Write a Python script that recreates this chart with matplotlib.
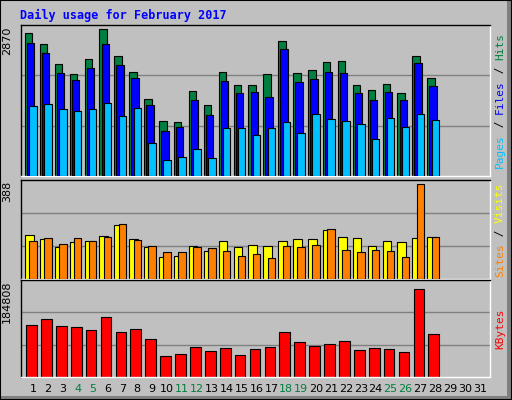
import numpy as np
import matplotlib
matplotlib.use("Agg")
import matplotlib.pyplot as plt
from matplotlib.patches import Rectangle

days = list(range(1, 32))
weekend = [4, 5, 11, 12, 18, 19, 25, 26]
hits = [2799, 2586, 2198, 2004, 2295, 2870, 2359, 2043, 1500, 1080, 1060, 1661, 1390, 2043,
        1778, 1778, 1991, 2650, 2010, 2068, 2224, 2243, 1778, 1681, 1797, 1622, 2359, 1913]
files = [2605, 2411, 2023, 1888, 2120, 2586, 2165, 1913, 1390, 886, 963, 1487, 1196, 1855,
         1622, 1642, 1545, 2495, 1836, 1894, 2030, 2010, 1622, 1487, 1642, 1487, 2204, 1758]
pages = [1364, 1403, 1312, 1273, 1312, 1422, 1170, 1332, 653, 304, 381, 537, 362, 944,
         944, 808, 944, 1060, 847, 1215, 1118, 1080, 1021, 730, 1138, 963, 1215, 1099]
visits = [181, 164, 130, 151, 155, 176, 223, 164, 130, 92, 96, 134, 113, 155,
          130, 138, 134, 155, 164, 164, 202, 172, 168, 134, 155, 151, 168, 172]
sites = [155, 168, 143, 168, 155, 172, 227, 159, 134, 109, 109, 130, 126, 113,
         96, 104, 87, 134, 130, 138, 206, 117, 109, 121, 113, 92, 388, 172]
kbytes = [109700, 121900, 107600, 105600, 99500, 125900, 93400, 101600, 79200, 44700,
          48700, 63000, 54800, 60900, 46700, 58900, 63000, 93400, 73100, 65000,
          69100, 75100, 56900, 60900, 58900, 52800, 184808, 89400]

BG = "#C0C0C0"
W, H = 512, 400
fig = plt.figure(figsize=(W / 100, H / 100), dpi=100, facecolor=BG)
mono = "DejaVu Sans Mono"

# bevel frame
fig.patches.append(Rectangle((507 / W, 0), 5 / W, 1, transform=fig.transFigure, fc="#808080", ec="none"))
fig.patches.append(Rectangle((0, 0), 1, 4 / H, transform=fig.transFigure, fc="#808080", ec="none"))
fig.patches.append(Rectangle((0, 0), 1, 1, transform=fig.transFigure, fill=False, ec="black", lw=1.5))

def px_axes(top, bottom):
    return fig.add_axes([21 / W, 1 - bottom / H, 469 / W, (bottom - top) / H])

x = np.arange(1, len(hits) + 1)

def style(ax, vmax, label, scale):
    ax.set_facecolor(BG)
    ax.set_xlim(0.195, 31.67)
    ax.set_ylim(0, vmax * scale)
    ax.set_xticks([])
    ax.set_yticks([])
    for s in ax.spines.values():
        s.set_color("black")
        s.set_linewidth(1)
    ax.spines["right"].set_color("white")
    ax.spines["bottom"].set_color("white")
    for f in (1 / 3, 2 / 3):
        ax.axhline(vmax * scale * f, color="#808080", lw=1, zorder=0)
    ax.text(-0.03, 0.99, label, transform=ax.transAxes, rotation=90, ha="center", va="top",
            fontsize=8, family="DejaVu Sans", color="black")

def side_label(ax, parts):
    # stacked rotated text, bottom to top
    total = sum(len(p[0]) for p in parts)
    h = ax.get_position().height * H
    cw = 6.75 / h
    y = 0.5 - total * cw / 2
    for txt, col in parts:
        ax.text(1.021, y, txt, transform=ax.transAxes, rotation=90, ha="center", va="bottom",
                fontsize=8, family=mono, color=col)
        y += len(txt) * cw

bw = 0.5
ax1 = px_axes(25, 176)
ax1.bar(x - 0.29, hits, bw, color="#008040", ec="black", lw=0.8, zorder=2)
ax1.bar(x - 0.15, files, bw, color="#0000FF", ec="black", lw=0.8, zorder=3)
ax1.bar(x, pages, bw, color="#00C0FF", ec="black", lw=0.8, zorder=4)
style(ax1, max(hits), str(max(hits)), 1.03)
side_label(ax1, [("Pages", "#00C0FF"), (" / ", "black"), ("Files", "#0000FF"),
                 (" / ", "black"), ("Hits", "#008040")])

ax2 = px_axes(180, 279)
ax2.bar(x - 0.25, visits, 0.58, color="#FFFF00", ec="black", lw=0.8, zorder=2)
ax2.bar(x, sites, 0.5, color="#FF8000", ec="black", lw=0.8, zorder=3)
style(ax2, max(sites), str(max(sites)), 1.047)
side_label(ax2, [("Sites", "#FF8000"), (" / ", "black"), ("Visits", "#FFFF00")])

ax3 = px_axes(280, 377)
ax3.bar(x - 0.1, kbytes, 0.72, color="#FF0000", ec="black", lw=0.8, zorder=2)
style(ax3, max(kbytes), str(max(kbytes)), 1.10)
side_label(ax3, [("KBytes", "#FF0000")])

for d in days:
    ax3.text(d, -0.12, str(d), transform=ax3.get_xaxis_transform(), ha="center", va="center",
             fontsize=8, color="#008040" if d in weekend else "black")

fig.text(20 / W, 1 - 15 / H, "Daily usage for February 2017", family=mono, weight="bold",
         fontsize=8.5, color="#0000FF", ha="left", va="center")

fig.savefig("out.png", dpi=100, facecolor=BG)
